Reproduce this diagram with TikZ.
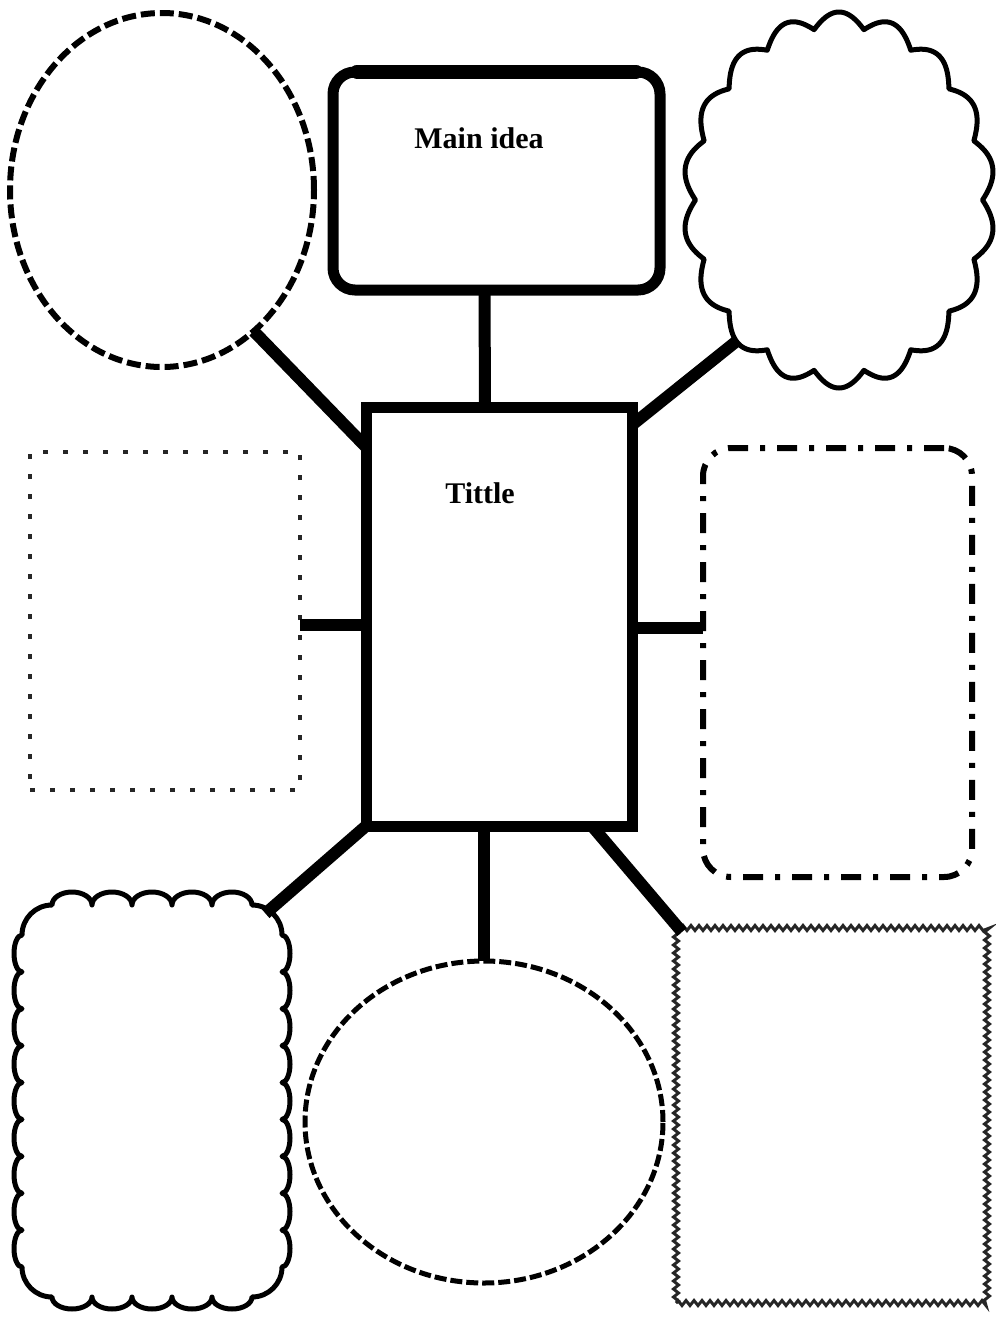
\documentclass[tikz,border=0pt]{standalone}
\usepackage{fontspec}
\setmainfont{Liberation Serif}
\usetikzlibrary{shapes.geometric,decorations.pathmorphing}
\begin{document}
\begin{tikzpicture}[x=1pt,y=-1pt,
  conn/.style={line width=12pt, line cap=butt},
  lbl/.style={font=\fontsize{30}{36}\selectfont\bfseries, anchor=base, inner sep=0pt},
  box/.style={inner sep=0pt, outer sep=0pt},
]
\useasboundingbox[fill=white] (0,0) rectangle (996,1320);
% ---- shapes ----
\node[box, draw, line width=11pt, rounded corners=22pt, minimum width=327pt, minimum height=218pt] (main) at (496.5,181) {};
\draw[line width=14pt, line cap=round] ([xshift=24pt,yshift=0.5pt]main.north west) -- ([xshift=-24pt,yshift=0.5pt]main.north east);
\node[box, draw, line width=11pt, minimum width=266pt, minimum height=419pt] (title) at (499,616.5) {};
\node[box, draw, ellipse, line width=6pt, dash pattern=on 14pt off 5pt, minimum width=304pt, minimum height=354pt] (tl) at (162,190) {};
\node[box, ellipse, minimum width=312pt, minimum height=376pt] (cloud) at (839,200) {};
\draw[line width=5pt, line join=round] plot[domain=0:360, samples=721, variable=\t]
  ({839+156*(0.92+0.08*abs(sin(9*\t)))*cos(\t)}, {200+188*(0.92+0.08*abs(sin(9*\t)))*sin(\t)}) -- cycle;
\node[box, draw=black!85, line width=4.5pt, dash pattern=on 5pt off 15pt, minimum width=270pt, minimum height=338pt] (lrect) at (165,621) {};
\node[box, draw, line width=6pt, rounded corners=28pt, dash pattern=on 20pt off 12pt on 5pt off 12pt, minimum width=269pt, minimum height=429pt] (rrect) at (837.5,662.5) {};
% bottom-left scalloped box
\node[box, minimum width=275pt, minimum height=405pt] (bl) at (152,1101) {};
\draw[line width=5pt, line join=round]
  (52,905)
  \foreach \i in {1,...,5} { arc[start angle=180, end angle=360, x radius=20, y radius=13] }
  arc[start angle=270, end angle=360, radius=30]
  \foreach \i in {1,...,9} { arc[start angle=270, end angle=450, x radius=8, y radius=18.444] }
  arc[start angle=0, end angle=90, radius=30]
  \foreach \i in {1,...,5} { arc[start angle=0, end angle=180, x radius=20, y radius=12] }
  arc[start angle=90, end angle=180, radius=30]
  \foreach \i in {1,...,9} { arc[start angle=90, end angle=270, x radius=8, y radius=18.444] }
  arc[start angle=180, end angle=270, radius=30] -- cycle;
\node[box, draw, ellipse, line width=5pt, dash pattern=on 12pt off 4pt, minimum width=358pt, minimum height=322pt] (bc) at (484,1122) {};
\node[box, draw=black!85, line width=3pt, decorate, decoration={zigzag, segment length=8pt, amplitude=2.5pt}, minimum width=311pt, minimum height=375pt] (br) at (831.5,1115.5) {};
% ---- texts ----
\node[lbl] (tmain) at (479,148) {Main idea};
\node[lbl] (ttitle) at (480,503) {Tittle};
% ---- connectors ----
\coordinate (llev) at (0,625);
\coordinate (rlev) at (0,628);
\draw[conn] ([xshift=-12pt]main.south) -- ([xshift=-14pt]title.north);
\draw[conn] (tl.-57) -- ([yshift=-40pt]title.north west);
\draw[conn] (cloud.-126) -- ([yshift=-18pt]title.north east);
\draw[conn] (lrect.east |- llev) -- (title.west |- llev);
\draw[conn] (title.east |- rlev) -- (rrect.west |- rlev);
\draw[conn] (title.south west) -- ([xshift=-24pt,yshift=-15pt]bl.north east);
\draw[conn] ([xshift=-15pt]title.south) -- (bc.north);
\draw[conn] ([xshift=-40pt]title.south east) -- ([xshift=6pt,yshift=-4pt]br.north west);
\end{tikzpicture}
\end{document}
